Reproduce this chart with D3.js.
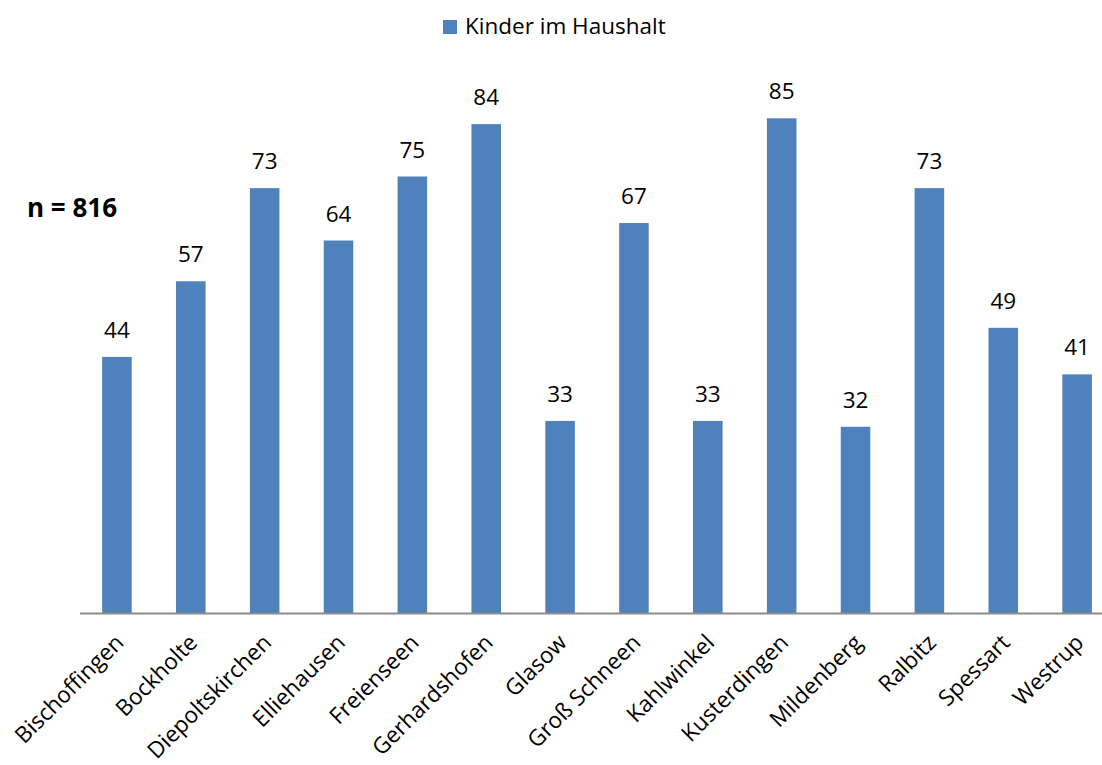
<!DOCTYPE html>
<html>
<head>
<meta charset="utf-8">
<script src="https://cdn.jsdelivr.net/npm/d3@7"></script>
<style>
  body { margin: 0; background: #fff; }
  text { font-family: "Open Sans", "Liberation Sans", sans-serif; fill: #000; }
</style>
</head>
<body>
<svg></svg>
<script>
var categories = ["Bischoffingen", "Bockholte", "Diepoltskirchen", "Elliehausen", "Freienseen",
  "Gerhardshofen", "Glasow", "Groß Schneen", "Kahlwinkel", "Kusterdingen",
  "Mildenberg", "Ralbitz", "Spessart", "Westrup"];
var values = [44, 57, 73, 64, 75, 84, 33, 67, 33, 85, 32, 73, 49, 41];
var seriesName = "Kinder im Haushalt";
var note = "n = 816";

var screen = { width: 1102, height: 765 };
var margins = { top: 31, left: 80 };
var baseline = 613;
var barColor = "#4F81BD";

var svg = d3.select("svg")
  .attr("width", screen.width)
  .attr("height", screen.height);

var xScale = d3.scaleBand()
  .domain(categories)
  .range([margins.left, margins.left + categories.length * 73.86])
  .paddingInner(0.6)
  .paddingOuter(0.3);

var yScale = d3.scaleLinear()
  .domain([0, 100])
  .range([baseline, margins.top]);

// bars
svg.append("g").selectAll("rect")
  .data(values)
  .enter()
  .append("rect")
  .attr("x", function(d, i) { return xScale(categories[i]); })
  .attr("y", function(d) { return yScale(d); })
  .attr("width", xScale.bandwidth())
  .attr("height", function(d) { return baseline - yScale(d); })
  .attr("fill", barColor);

// value labels
svg.append("g").selectAll("text")
  .data(values)
  .enter()
  .append("text")
  .attr("x", function(d, i) { return xScale(categories[i]) + xScale.bandwidth() / 2; })
  .attr("y", function(d) { return yScale(d) - 19; })
  .attr("text-anchor", "middle")
  .style("font-size", "22.5px")
  .text(function(d) { return d; });

// axis line
svg.append("line")
  .attr("x1", margins.left)
  .attr("x2", screen.width)
  .attr("y1", baseline + 0.5)
  .attr("y2", baseline + 0.5)
  .attr("stroke", "#8c8c8c")
  .attr("stroke-width", 2);

// category labels
svg.append("g").selectAll("text")
  .data(categories)
  .enter()
  .append("text")
  .attr("transform", function(d) {
    var x = xScale(d) + xScale.bandwidth() / 2 + 8;
    var y = baseline + 31;
    return "translate(" + x + "," + y + ") rotate(-45)";
  })
  .attr("text-anchor", "end")
  .style("font-size", "22.5px")
  .text(function(d) { return d; });

// legend
var legend = svg.append("g").attr("transform", "translate(443,20)");
legend.append("rect")
  .attr("width", 14)
  .attr("height", 14)
  .attr("fill", barColor);
legend.append("text")
  .attr("x", 22)
  .attr("y", 14)
  .style("font-size", "22.5px")
  .text(seriesName);

// n label
svg.append("text")
  .attr("x", 27)
  .attr("y", 217)
  .style("font-size", "26px")
  .style("font-weight", "bold")
  .text(note);
</script>
</body>
</html>
